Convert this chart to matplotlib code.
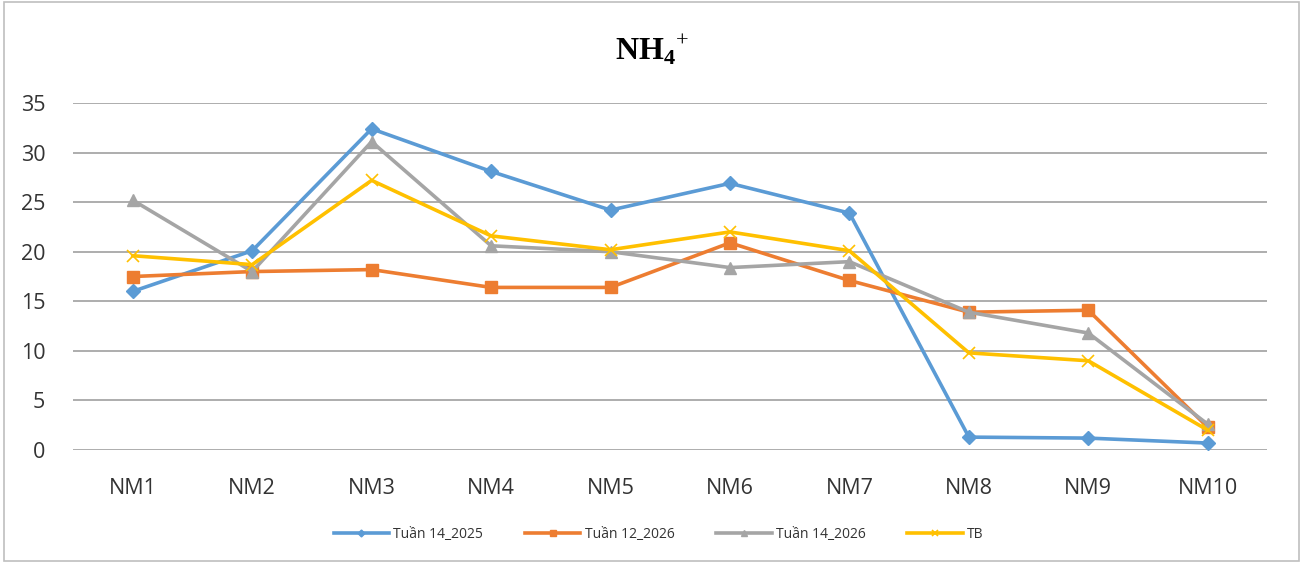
import matplotlib.pyplot as plt
from matplotlib.patches import Rectangle

# data
stations = ['NM1', 'NM2', 'NM3', 'NM4', 'NM5', 'NM6', 'NM7', 'NM8', 'NM9', 'NM10']
tuan14_2025 = [16.0, 20.1, 32.4, 28.1, 24.2, 26.9, 23.9, 1.3, 1.2, 0.7]
tuan12_2026 = [17.5, 18.0, 18.2, 16.4, 16.4, 20.9, 17.1, 13.9, 14.1, 2.3]
tuan14_2026 = [25.2, 18.0, 31.1, 20.6, 20.0, 18.4, 19.0, 13.9, 11.8, 2.6]
tb = [19.6, 18.7, 27.2, 21.6, 20.2, 22.0, 20.1, 9.8, 9.0, 2.0]
yticks = [0, 5, 10, 15, 20, 25, 30, 35]

plt.rcParams['font.family'] = ['Open Sans', 'DejaVu Sans']
plt.rcParams['mathtext.fontset'] = 'custom'
plt.rcParams['mathtext.rm'] = 'Liberation Serif'
plt.rcParams['mathtext.bf'] = 'Liberation Serif:bold'

fig = plt.figure(figsize=(13.04, 5.63), dpi=100)
ax = fig.add_axes([0.056, 0.2007, 0.916, 0.6163])

x = list(range(len(stations)))
ax.plot(x, tuan14_2025, color='#5B9BD5', lw=2.6, marker='D', ms=7, label='Tuần 14_2025')
ax.plot(x, tuan12_2026, color='#ED7D31', lw=2.6, marker='s', ms=8, label='Tuần 12_2026')
ax.plot(x, tuan14_2026, color='#A5A5A5', lw=2.6, marker='^', ms=9, label='Tuần 14_2026')
ax.plot(x, tb, color='#FFC000', lw=2.6, marker='x', ms=9, mew=1.2, label='TB')

ax.set_xlim(-0.5, len(stations) - 0.5)
ax.set_ylim(0, 35)
ax.set_yticks(yticks)
ax.set_xticks(x)
ax.set_xticklabels(stations)
ax.yaxis.grid(True, color='#A0A0A0', lw=1.2)
ax.set_axisbelow(True)
for s in ax.spines.values():
    s.set_visible(False)
ax.tick_params(axis='both', length=0, labelsize=15.5, colors='#333333')
ax.tick_params(axis='x', pad=20)
ax.tick_params(axis='y', pad=20)

fig.text(0.5, 0.91, r'$\mathbf{NH}_\mathbf{4}{}^{+}$', ha='center', va='center', fontsize=23)

leg = fig.legend(loc='center', bbox_to_anchor=(0.505, 0.05), ncol=4, frameon=False,
                 fontsize=10, handlelength=4, markerscale=0.5, columnspacing=3,
                 handletextpad=0.3)
for t in leg.get_texts():
    t.set_color('#333333')

fig.patches.append(Rectangle((0.003, 0.003), 0.993, 0.994, transform=fig.transFigure,
                             fill=False, edgecolor='#BFBFBF', lw=1.2))

fig.savefig('out.png', dpi=100)
